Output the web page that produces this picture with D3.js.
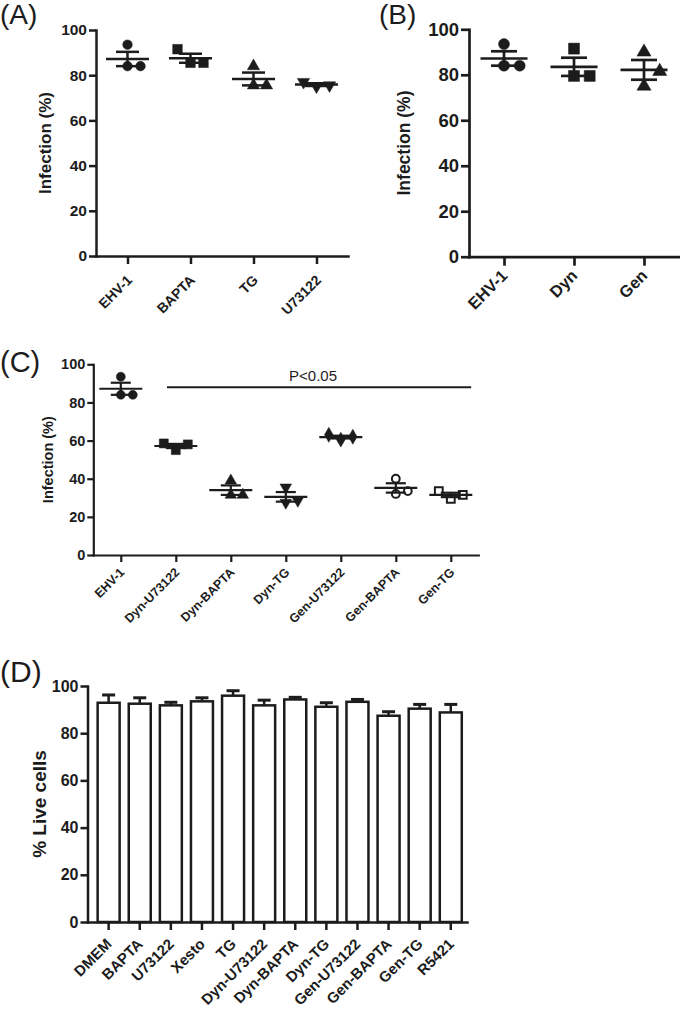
<!DOCTYPE html>
<html>
<head>
<meta charset="utf-8">
<script src="https://cdn.jsdelivr.net/npm/d3@7"></script>
<style>
  body { margin: 0; background: #fff; }
  svg { display: block; }
  text { font-family: "Liberation Sans", Arial, Helvetica, sans-serif; }
</style>
</head>
<body>
<svg id="fig" width="680" height="1011"></svg>
<script>
// ---- data ----
const yTicks = [0, 20, 40, 60, 80, 100];

const aGroups = ["EHV-1", "BAPTA", "TG", "U73122"];
const aValues = [[84, 84, 93.5], [85.5, 85.5, 91.5], [75.5, 75.5, 84], [75, 75.5, 77]];

const bGroups = ["EHV-1", "Dyn", "Gen"];
const bValues = [[84, 84, 93.5], [79.5, 79.5, 91.5], [75, 81.5, 90]];

const cGroups = ["EHV-1", "Dyn-U73122", "Dyn-BAPTA", "Dyn-TG", "Gen-U73122", "Gen-BAPTA", "Gen-TG"];
const cValues = [[84, 84, 93.5], [55, 58, 58.5], [31.5, 31.5, 39], [27.5, 28.5, 35.5],
                 [60.5, 62, 63], [32, 33.5, 40], [29.5, 31.5, 33.5]];
const cSigText = "P<0.05";
const cSigFrom = "Dyn-U73122", cSigTo = "Gen-TG", cSigLevel = 88;

const dGroups = ["DMEM", "BAPTA", "U73122", "Xesto", "TG", "Dyn-U73122", "Dyn-BAPTA",
                 "Dyn-TG", "Gen-U73122", "Gen-BAPTA", "Gen-TG", "R5421"];
const dMeans = [92.9, 92.5, 91.8, 93.5, 95.9, 91.8, 94.3, 91.2, 93.3, 87.4, 90.4, 88.8];
const dSem   = [3.3, 2.5, 1.3, 1.5, 2.1, 2.2, 0.9, 1.7, 1.0, 1.7, 1.8, 3.4];

// ---- drawing ----
const ink = "#1c1c1c";
const svg = d3.select("#fig");

function styleAxis(ax, width, fontSize) {
  ax.select(".domain").attr("stroke", ink).attr("stroke-width", width).attr("stroke-linecap", "square");
  ax.selectAll(".tick line").attr("stroke", ink).attr("stroke-width", width);
  ax.selectAll(".tick text").attr("fill", ink).attr("font-weight", "bold").attr("font-size", fontSize);
}

// swap the axis labels for slanted ones, each in its own rotated group
function slantLabels(ax, dx, dy, fontSize) {
  ax.selectAll(".tick").each(function (d) {
    const t = d3.select(this);
    t.select("text").remove();
    t.append("g").attr("transform", `translate(${dx},${dy}) rotate(-45)`)
      .append("text")
      .attr("text-anchor", "end")
      .attr("font-weight", "bold").attr("font-size", fontSize)
      .attr("fill", ink)
      .text(d);
  });
}

function marker(g, kind, r, cx, cy) {
  const open = kind.startsWith("open");
  const base = kind.replace("open", "").toLowerCase();
  let type = d3.symbolCircle, size = Math.PI * r * r, rot = 0;
  if (base === "square") { type = d3.symbolSquare; size = 4 * r * r; }
  if (base === "triangle" || base === "triangledown") { type = d3.symbolTriangle; size = 2.2 * r * r * 1.3; }
  if (base === "triangledown") rot = 180;
  if (base === "diamond") { type = d3.symbolDiamond; size = 3.2 * r * r; }
  if (open) size *= 0.75;
  g.append("g").attr("transform", `translate(${cx},${cy})`)
    .append("path")
    .attr("d", d3.symbol(type, size)())
    .attr("transform", `rotate(${rot})`)
    .attr("fill", open ? "#fff" : ink)
    .attr("stroke", ink)
    .attr("stroke-width", open ? 2 : 0.5);
}

// lay out replicate points like a column scatter: same slot only if far enough apart
function spread(vals, y, thr) {
  const placed = [];
  vals.forEach(v => {
    const py = y(v);
    for (const k of [0, 1, -1, 2, -2]) {
      if (!placed.some(p => p.k === k && Math.abs(p.py - py) < thr)) { placed.push({ v, py, k }); break; }
    }
  });
  return placed;
}

function scatterPanel(c) {
  const g = svg.append("g");
  const x = d3.scalePoint().domain(c.groups).range([c.left, c.right]).padding(0.5);
  const y = d3.scaleLinear().domain([0, 100]).range([c.bottom, c.top]);

  const ya = g.append("g").attr("transform", `translate(${c.left},0)`)
    .call(d3.axisLeft(y).tickValues(yTicks).tickSize(c.tick).tickSizeOuter(0).tickPadding(2));
  styleAxis(ya, c.lw, c.tickFont);

  const xa = g.append("g").attr("transform", `translate(0,${c.bottom})`)
    .call(d3.axisBottom(x).tickSize(c.tick + 1).tickSizeOuter(0));
  styleAxis(xa, c.lw, c.xFont);
  slantLabels(xa, c.lx, c.ly, c.xFont);

  g.append("g").attr("transform", `translate(${c.titleX},${(c.top + c.bottom) / 2}) rotate(-90)`)
    .append("text")
    .attr("text-anchor", "middle").attr("dy", "0.35em")
    .attr("font-weight", "bold").attr("font-size", c.titleFont).attr("fill", ink)
    .text("Infection (%)");

  g.append("text").attr("x", c.tagX).attr("y", c.tagY)
    .attr("font-size", c.tagFont).attr("fill", ink).text(c.tag);

  c.groups.forEach((name, i) => {
    const vals = c.values[i];
    const cx = x(name);
    spread(vals, y, c.thr).forEach(p => marker(g, c.markers[i], c.r, cx + p.k * c.gap, p.py));
    const m = d3.mean(vals), se = d3.deviation(vals) / Math.sqrt(vals.length);
    const lines = [
      [cx - c.meanHalf, y(m), cx + c.meanHalf, y(m)],
      [cx, y(m - se), cx, y(m + se)],
      [cx - c.capHalf, y(m + se), cx + c.capHalf, y(m + se)],
      [cx - c.capHalf, y(m - se), cx + c.capHalf, y(m - se)]
    ];
    lines.forEach(l => g.append("line")
      .attr("x1", l[0]).attr("y1", l[1]).attr("x2", l[2]).attr("y2", l[3])
      .attr("stroke", ink).attr("stroke-width", c.lw));
  });
  return { g, x, y };
}

// (A)
scatterPanel({
  groups: aGroups, values: aValues, markers: ["circle", "square", "triangle", "triangleDown"],
  left: 96, right: 348, top: 30, bottom: 256, tick: 7, lw: 2.5,
  tickFont: 15.5, xFont: 14, titleFont: 17, titleX: 45, lx: 5, ly: 25,
  r: 4.8, gap: 13, thr: 14, meanHalf: 21.5, capHalf: 11.5,
  tag: "(A)", tagX: 0, tagY: 24, tagFont: 28
});

// (B)
scatterPanel({
  groups: bGroups, values: bValues, markers: ["circle", "square", "triangle"],
  left: 469, right: 679, top: 29.3, bottom: 256.7, tick: 8, lw: 2.7,
  tickFont: 18.5, xFont: 16.5, titleFont: 17.5, titleX: 404, lx: 4, ly: 20,
  r: 5.5, gap: 15.7, thr: 16.5, meanHalf: 23.5, capHalf: 13,
  tag: "(B)", tagX: 379, tagY: 24, tagFont: 28
});

// (C)
const pc = scatterPanel({
  groups: cGroups, values: cValues,
  markers: ["circle", "square", "triangle", "triangleDown", "diamond", "openCircle", "openSquare"],
  left: 93.3, right: 478.3, top: 364.3, bottom: 555, tick: 6, lw: 2.2,
  tickFont: 14.5, xFont: 12.5, titleFont: 14.5, titleX: 47.5, lx: 4, ly: 18,
  r: 4.5, gap: 12, thr: 13.5, meanHalf: 21.5, capHalf: 10,
  tag: "(C)", tagX: 0, tagY: 372, tagFont: 29
});
{
  const step = pc.x.step();
  const x1 = pc.x(cSigFrom) - 0.16 * step, x2 = pc.x(cSigTo) + 0.37 * step;
  pc.g.append("line").attr("x1", x1).attr("x2", x2)
    .attr("y1", pc.y(cSigLevel)).attr("y2", pc.y(cSigLevel))
    .attr("stroke", ink).attr("stroke-width", 2);
  pc.g.append("text").attr("x", (x1 + x2) / 2 - 6).attr("y", pc.y(cSigLevel) - 6)
    .attr("text-anchor", "middle").attr("font-size", 15).attr("fill", ink).text(cSigText);
}

// (D)
{
  const g = svg.append("g");
  const left = 87.5, right = 467, top = 686, bottom = 922;
  const x = d3.scaleBand().domain(dGroups).range([left, right])
    .paddingInner(0.293).paddingOuter(0.247).align(0.66);
  const y = d3.scaleLinear().domain([0, 100]).range([bottom, top]);

  g.selectAll("rect.bar").data(dGroups).join("rect").attr("class", "bar")
    .attr("x", d => x(d)).attr("width", x.bandwidth())
    .attr("y", (d, i) => y(dMeans[i])).attr("height", (d, i) => bottom - y(dMeans[i]))
    .attr("fill", "#fff").attr("stroke", ink).attr("stroke-width", 2.5);

  dGroups.forEach((d, i) => {
    const cx = x(d) + x.bandwidth() / 2;
    g.append("line").attr("x1", cx).attr("x2", cx)
      .attr("y1", y(dMeans[i])).attr("y2", y(dMeans[i] + dSem[i]))
      .attr("stroke", ink).attr("stroke-width", 2.5);
    g.append("line").attr("x1", cx - 6.5).attr("x2", cx + 6.5)
      .attr("y1", y(dMeans[i] + dSem[i])).attr("y2", y(dMeans[i] + dSem[i]))
      .attr("stroke", ink).attr("stroke-width", 3);
  });

  const ya = g.append("g").attr("transform", `translate(${left},0)`)
    .call(d3.axisLeft(y).tickValues(yTicks).tickSize(7).tickSizeOuter(0).tickPadding(2));
  styleAxis(ya, 2.5, 16);

  const xa = g.append("g").attr("transform", `translate(0,${bottom})`)
    .call(d3.axisBottom(x).tickSize(8).tickSizeOuter(0));
  styleAxis(xa, 2.5, 15);
  slantLabels(xa, 4, 23, 15);

  g.append("g").attr("transform", `translate(39,${(top + bottom) / 2}) rotate(-90)`)
    .append("text")
    .attr("text-anchor", "middle").attr("dy", "0.35em")
    .attr("font-weight", "bold").attr("font-size", 19).attr("fill", ink)
    .text("% Live cells");

  g.append("text").attr("x", 0).attr("y", 682)
    .attr("font-size", 30).attr("fill", ink).text("(D)");
}
</script>
</body>
</html>
